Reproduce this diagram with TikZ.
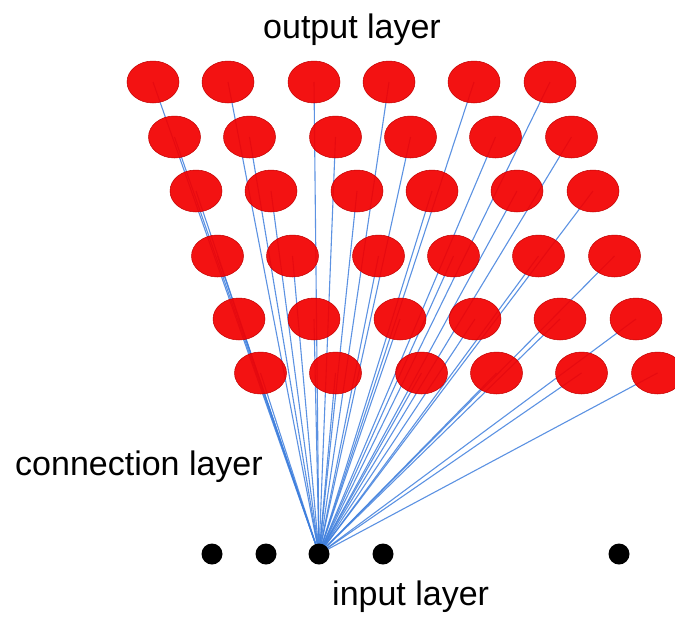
\documentclass[tikz,border=0pt]{standalone}
\usepackage{fontspec}
\setmainfont{Liberation Sans}
\usepackage{xcolor}
\usepackage{tikz}
\usetikzlibrary{shapes.geometric, backgrounds}
\definecolor{cellred}{HTML}{F20000}
\definecolor{linkblue}{HTML}{3F7FDD}

\begin{document}
\begin{tikzpicture}[x=1pt, y=-1pt,
    outcell/.style={ellipse, fill=cellred, draw=cellred!80!black, line width=0.5pt,
      minimum width=52pt, minimum height=42pt, inner sep=0pt, fill opacity=0.93},
    incell/.style={circle, fill=black, minimum size=21pt, inner sep=0pt},
    link/.style={linkblue, line width=1.1pt, draw opacity=0.85},
    laytext/.style={anchor=base west, inner sep=0pt, font=\fontsize{34}{40}\selectfont}]
    \useasboundingbox (0,0) rectangle (675,619);
    % output layer: six rows, each shifted right a little
    \foreach \r/\y in {1/82, 2/137, 3/191, 4/256, 5/319, 6/373}
      \foreach \c/\x in {1/153, 2/228, 3/314, 4/389, 5/474, 6/550}
        \node[outcell] (out-\r-\c) at ({\x+21.5*(\r-1)},\y) {};
    % input layer
    \node[incell] (in1) at (212,554) {};
    \node[incell] (in2) at (266,554) {};
    \node[incell] (in3) at (319,554) {};
    \node[incell] (in4) at (383,554) {};
    \node[incell] (in5) at (619,554) {};
    % connection layer
    \begin{pgfonlayer}{background}
      \foreach \r in {1,...,6}
        \foreach \c in {1,...,6}
          \draw[link] (in3.center) -- (out-\r-\c.center);
    \end{pgfonlayer}
    \node[laytext] (outtext) at (263,38) {output layer};
    \node[laytext] (context) at (15,475) {connection layer};
    \node[laytext] (intext) at (332,605) {input layer};
\end{tikzpicture}
\end{document}
